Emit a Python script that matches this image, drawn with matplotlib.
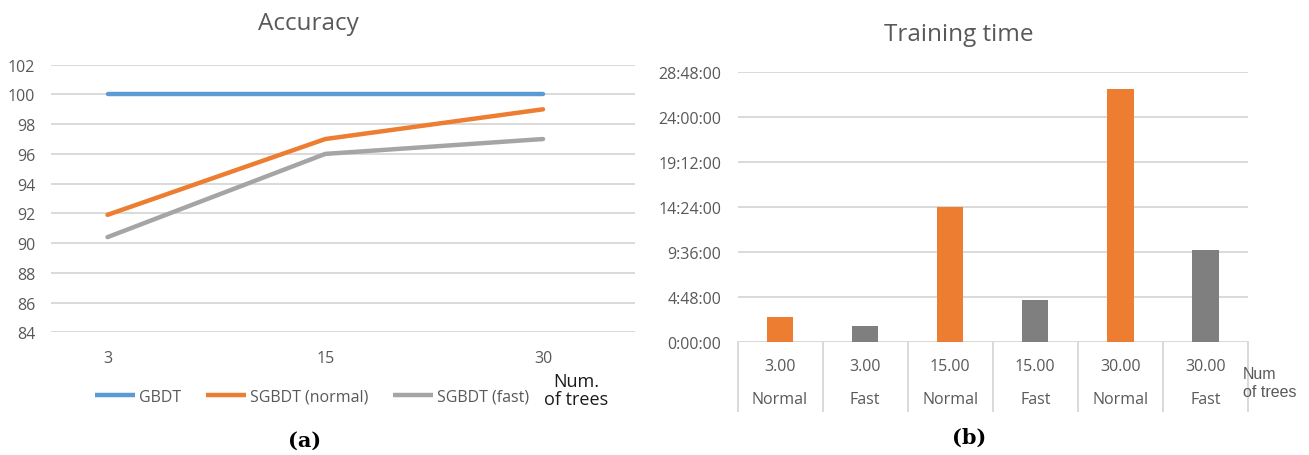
import matplotlib
matplotlib.use("Agg")
import matplotlib.pyplot as plt
from matplotlib.ticker import FuncFormatter, FixedLocator

plt.rcParams['font.family'] = ['Open Sans', 'DejaVu Sans']

# ---------- data ----------
acc_trees = ["3", "15", "30"]
acc_gbdt = [100.0, 100.0, 100.0]
acc_sgbdt_normal = [91.9, 97.0, 99.0]
acc_sgbdt_fast = [90.4, 96.0, 97.0]

time_trees = ["3.00", "3.00", "15.00", "15.00", "30.00", "30.00"]
time_mode = ["Normal", "Fast", "Normal", "Fast", "Normal", "Fast"]
time_hours = [2.7, 1.75, 14.45, 4.5, 27.0, 9.85]

TXT = '#595959'
GRID = '#D9D9D9'
BLUE = '#5B9BD5'
ORANGE = '#ED7D31'
LGREY = '#A5A5A5'
DGREY = '#7F7F7F'
TICK_FS = 11.5

W, H = 1309, 456
fig = plt.figure(figsize=(W / 100, H / 100), dpi=100)

def fx(px):
    return px / W

def fy(py):
    return 1 - py / H

# ---------- left: accuracy ----------
L, R, T, B = 51, 635, 65.7, 333.3
ax1 = fig.add_axes([fx(L), fy(B), fx(R - L), (B - T) / H])
xs = list(range(len(acc_trees)))
step = (543 - 107.5) / 2
lw = 3.2
ax1.plot(xs, acc_gbdt, color=BLUE, lw=lw, solid_capstyle='round', label='GBDT', zorder=3)
ax1.plot(xs, acc_sgbdt_normal, color=ORANGE, lw=lw, solid_capstyle='round', label='SGBDT (normal)', zorder=3)
ax1.plot(xs, acc_sgbdt_fast, color=LGREY, lw=lw, solid_capstyle='round', label='SGBDT (fast)', zorder=3)
ax1.set_ylim(84, 102)
ax1.set_xlim(-(107.5 - L) / step, 2 + (R - 543) / step)
ax1.set_yticks(range(84, 103, 2))
ax1.set_xticks(xs)
ax1.set_xticklabels(acc_trees)
ax1.grid(axis='y', color=GRID, lw=1.4)
ax1.set_axisbelow(True)
for s in ax1.spines.values():
    s.set_visible(False)
ax1.tick_params(axis='both', length=0, colors=TXT, labelsize=TICK_FS)
ax1.tick_params(axis='x', pad=13)
ax1.tick_params(axis='y', pad=11.5)
fig.text(fx(308), fy(24), 'Accuracy', ha='center', va='center', color=TXT, fontsize=17.5)
leg = ax1.legend(loc='center left', bbox_to_anchor=(fx(87), fy(398)),
                 bbox_transform=fig.transFigure, ncol=3, frameon=False,
                 fontsize=TICK_FS, handlelength=2.5, handletextpad=0.25,
                 columnspacing=1.55, borderpad=0, labelcolor=TXT)
for h in leg.legend_handles:
    h.set_solid_capstyle('butt')
fig.text(fx(576), fy(391), 'Num.\nof trees', ha='center', va='center', color='#1a1a1a',
         fontsize=13, linespacing=0.95)
fig.text(fx(305), fy(441), '(a)', ha='center', va='center', color='black',
         fontsize=15, fontweight='bold', family='DejaVu Serif')

# ---------- right: training time ----------
L2, R2, T2, B2 = 737.5, 1248, 73.3, 343.3
ax2 = fig.add_axes([fx(L2), fy(B2), fx(R2 - L2), (B2 - T2) / H])
bx = list(range(len(time_hours)))
bcolors = [ORANGE if m == 'Normal' else DGREY for m in time_mode]
ax2.bar(bx, time_hours, width=0.31, color=bcolors, zorder=3)
ax2.set_xlim(-0.5, len(bx) - 0.5)
ax2.set_ylim(0, 28.8)
ax2.yaxis.set_major_locator(FixedLocator([0, 4.8, 9.6, 14.4, 19.2, 24.0, 28.8]))

def hms(v, pos):
    total = int(round(v * 3600))
    h = total // 3600
    m = (total % 3600) // 60
    s = total % 60
    return f"{h}:{m:02d}:{s:02d}"

ax2.yaxis.set_major_formatter(FuncFormatter(hms))
ax2.grid(axis='y', color=GRID, lw=1.4)
ax2.set_axisbelow(True)
for s in ax2.spines.values():
    s.set_visible(False)
ax2.axhline(0, color=GRID, lw=1.4, zorder=2)
ax2.set_xticks([])
ax2.tick_params(axis='y', length=0, colors=TXT, labelsize=TICK_FS, pad=11.5)
span = B2 - T2
sep_bottom = -(411.7 - B2) / span
tf = ax2.get_xaxis_transform()
for b in range(len(bx) + 1):
    xb = b - 0.5
    ax2.plot([xb, xb], [0, sep_bottom], color=GRID, lw=1.4, clip_on=False, transform=tf)
for i, (t, m) in enumerate(zip(time_trees, time_mode)):
    ax2.text(i, -(366.7 - B2) / span, t, transform=tf, ha='center', va='center',
             color=TXT, fontsize=TICK_FS)
    ax2.text(i, -(400 - B2) / span, m, transform=tf, ha='center', va='center',
             color=TXT, fontsize=TICK_FS)
fig.text(fx(1243), fy(384), 'Num\nof trees', ha='left', va='center', color=TXT,
         fontsize=11.5, linespacing=1.25, family='Liberation Sans')
fig.text(fx(959), fy(35), 'Training time', ha='center', va='center', color=TXT, fontsize=17.5)
fig.text(fx(969), fy(438), '(b)', ha='center', va='center', color='black',
         fontsize=15, fontweight='bold', family='DejaVu Serif')

fig.savefig('out.png', dpi=100)
